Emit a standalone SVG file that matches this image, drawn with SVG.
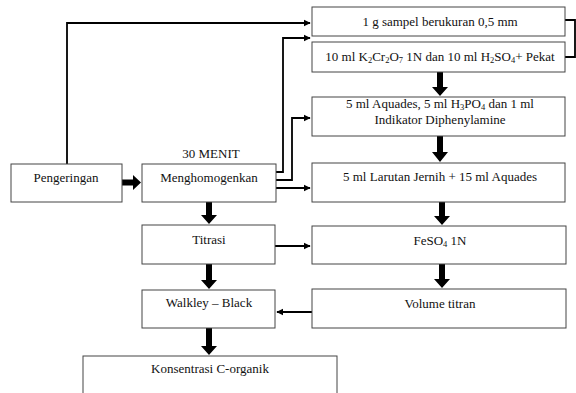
<svg xmlns="http://www.w3.org/2000/svg" width="576" height="393" viewBox="0 0 576 393">
<defs>
<style>
.box{fill:#fff;stroke:#444;stroke-width:1}
.t{font-family:"Liberation Serif","Times New Roman",serif;font-size:13px;fill:#111;text-anchor:middle}
.sub{font-size:8.5px}
.ln{fill:none;stroke:#000;stroke-width:1.8}
.big{fill:#000}
</style>
<marker id="ah" viewBox="0 0 10 10" refX="9" refY="5" markerWidth="4" markerHeight="4" orient="auto" markerUnits="strokeWidth">
<path d="M0,0 L10,5 L0,10 z" fill="#000"/>
</marker>
</defs>
<rect width="576" height="393" fill="#fff"/>
<g id="connectors">
<path class="ln" d="M67,164 V23 H310" marker-end="url(#ah)"/>
<path class="ln" d="M276,172 H283 V38 H310" marker-end="url(#ah)"/>
<path class="ln" d="M276,180 H292 V118 H310" marker-end="url(#ah)"/>
<path class="ln" d="M276,188 H310" marker-end="url(#ah)"/>
<path class="ln" d="M275,246 H310" marker-end="url(#ah)"/>
<path class="ln" d="M312,312 H277" marker-end="url(#ah)"/>
<path class="ln" d="M565,20 H575 V57 H565"/>
<polygon class="big" points="122,179.5 133,179.5 133,175 141,182.5 133,190 133,185.5 122,185.5"/>
<polygon class="big" points="437,72 443,72 443,87 448,87 440,96 432,87 437,87"/>
<polygon class="big" points="437,136 443,136 443,152 448,152 440,162 432,152 437,152"/>
<polygon class="big" points="439,202 445,202 445,216 450,216 442,225 434,216 439,216"/>
<polygon class="big" points="439,264 445,264 445,279 450,279 442,288 434,279 439,279"/>
<polygon class="big" points="206,202 212,202 212,215 217,215 209,224 201,215 206,215"/>
<polygon class="big" points="206,264 212,264 212,280 217,280 209,289 201,280 206,280"/>
<polygon class="big" points="206,328 212,328 212,346 217,346 209,355 201,346 206,346"/>
</g>
<g id="n-sampel"><rect class="box" x="312" y="7" width="253" height="29"/><text class="t" x="440" y="26">1 g sampel berukuran 0,5 mm</text></g>
<g id="n-k2cr2o7"><rect class="box" x="312" y="42" width="253" height="30"/><text class="t" x="440" y="61">10 ml K<tspan class="sub" dy="2">2</tspan><tspan dy="-2">Cr</tspan><tspan class="sub" dy="2">2</tspan><tspan dy="-2">O</tspan><tspan class="sub" dy="2">7</tspan><tspan dy="-2"> 1N dan 10 ml H</tspan><tspan class="sub" dy="2">2</tspan><tspan dy="-2">SO</tspan><tspan class="sub" dy="2">4</tspan><tspan dy="-2">+ Pekat</tspan></text></g>
<g id="n-aquades"><rect class="box" x="312" y="97" width="253" height="39"/><text class="t" x="440" y="108">5 ml Aquades, 5 ml H<tspan class="sub" dy="2">3</tspan><tspan dy="-2">PO</tspan><tspan class="sub" dy="2">4</tspan><tspan dy="-2"> dan 1 ml</tspan></text><text class="t" x="440" y="124">Indikator Diphenylamine</text></g>
<g id="n-larutan"><rect class="box" x="312" y="163" width="253" height="39"/><text class="t" x="440" y="181">5 ml Larutan Jernih + 15 ml Aquades</text></g>
<g id="n-feso4"><rect class="box" x="312" y="226" width="254" height="38"/><text class="t" x="440" y="245">FeSO<tspan class="sub" dy="2">4</tspan><tspan dy="-2"> 1N</tspan></text></g>
<g id="n-volume"><rect class="box" x="312" y="289" width="254" height="39"/><text class="t" x="440" y="308">Volume titran</text></g>
<g id="n-pengeringan"><rect class="box" x="11" y="164" width="111" height="38"/><text class="t" x="66" y="182">Pengeringan</text></g>
<g id="n-menghomogenkan"><text class="t" x="211" y="158">30 MENIT</text><rect class="box" x="142" y="164" width="134" height="38"/><text class="t" x="209" y="182">Menghomogenkan</text></g>
<g id="n-titrasi"><rect class="box" x="142" y="225" width="133" height="39"/><text class="t" x="209" y="244">Titrasi</text></g>
<g id="n-walkley"><rect class="box" x="142" y="290" width="133" height="38"/><text class="t" x="209" y="307">Walkley – Black</text></g>
<g id="n-konsentrasi"><rect class="box" x="83" y="356" width="254" height="50"/><text class="t" x="210" y="373">Konsentrasi C-organik</text></g>
</svg>
